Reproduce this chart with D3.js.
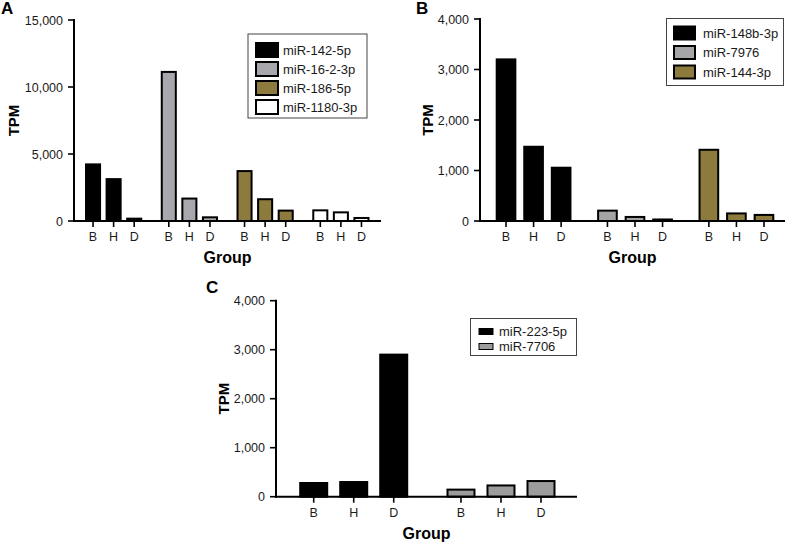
<!DOCTYPE html>
<html><head><meta charset="utf-8">
<script src="https://cdn.jsdelivr.net/npm/d3@7"></script>
<style>
body{margin:0;background:#fff;}
text{font-family:"Liberation Sans",Arial,sans-serif;}
</style></head>
<body>
<svg id="chart" width="788" height="543"></svg>
<script>
// ---- data ----
const groups = ["B", "H", "D"];

const seriesA = ["miR-142-5p", "miR-16-2-3p", "miR-186-5p", "miR-1180-3p"];
const valuesA = [
  [4300, 3200, 250],
  [11200, 1750, 350],
  [3800, 1700, 850],
  [870, 720, 300]
];
const ticksA = [0, 5000, 10000, 15000];

const seriesB = ["miR-148b-3p", "miR-7976", "miR-144-3p"];
const valuesB = [
  [3220, 1490, 1075],
  [225, 100, 50],
  [1430, 170, 140]
];
const ticksB = [0, 1000, 2000, 3000, 4000];

const seriesC = ["miR-223-5p", "miR-7706"];
const valuesC = [
  [300, 320, 2920],
  [165, 250, 340]
];
const ticksC = [0, 1000, 2000, 3000, 4000];

// ---- styling / layout ----
const colorsA = ["#000000", "#a7a7ad", "#8c7b3c", "#ffffff"];
const colorsB = ["#000000", "#a5a5a7", "#8c7b3c"];
const colorsC = ["#000000", "#9c9c9c"];

const svg = d3.select("#chart");

function panel(cfg) {
  const g = svg.append("g");
  const y = d3.scaleLinear().domain([0, cfg.ticks[cfg.ticks.length - 1]]).range([cfg.y0, cfg.y1]);
  const xo = d3.scaleBand().domain(cfg.series).range(cfg.xr).paddingInner(0.185).paddingOuter(0);
  const xi = d3.scaleBand().domain(groups).range([0, xo.bandwidth()]).padding(cfg.barPad).paddingOuter(cfg.barPad / 2);

  // bars
  cfg.series.forEach((s, si) => {
    const gg = g.append("g").attr("transform", `translate(${xo(s)},0)`);
    gg.selectAll("rect").data(cfg.values[si]).join("rect")
      .attr("x", (d, i) => xi(groups[i]) + 1)
      .attr("width", xi.bandwidth() - 2)
      .attr("y", d => y(d) + 1)
      .attr("height", d => Math.max(0, cfg.y0 - y(d) - 1))
      .attr("fill", cfg.colors[si])
      .attr("stroke", "#000")
      .attr("stroke-width", 2);
    // x ticks
    gg.selectAll("line.xt").data(groups).join("line")
      .attr("x1", d => xi(d) + xi.bandwidth() / 2).attr("x2", d => xi(d) + xi.bandwidth() / 2)
      .attr("y1", cfg.y0).attr("y2", cfg.y0 + 6)
      .attr("stroke", "#000").attr("stroke-width", 1.6);
    gg.selectAll("text.xl").data(groups).join("text")
      .attr("x", d => xi(d) + xi.bandwidth() / 2)
      .attr("y", cfg.y0 + 20)
      .attr("text-anchor", "middle")
      .attr("font-size", 12.5)
      .attr("fill", "#1a1a1a")
      .text(d => d);
  });

  // axes lines
  g.append("line").attr("x1", cfg.ax).attr("x2", cfg.ax).attr("y1", cfg.y1 - 1).attr("y2", cfg.y0 + 1)
    .attr("stroke", "#000").attr("stroke-width", 2);
  g.append("line").attr("x1", cfg.ax - 1).attr("x2", cfg.axEnd).attr("y1", cfg.y0).attr("y2", cfg.y0)
    .attr("stroke", "#000").attr("stroke-width", 2);
  // y ticks
  g.selectAll("line.yt").data(cfg.ticks).join("line")
    .attr("x1", cfg.ax - 6).attr("x2", cfg.ax).attr("y1", d => y(d)).attr("y2", d => y(d))
    .attr("stroke", "#000").attr("stroke-width", 1.6);
  g.selectAll("text.yl").data(cfg.ticks).join("text")
    .attr("x", cfg.ax - 11).attr("y", d => y(d) + 4.5)
    .attr("text-anchor", "end").attr("font-size", 12.5).attr("fill", "#1a1a1a")
    .text(d => d3.format(",")(d));

  // axis titles
  g.append("text").attr("transform", `translate(${cfg.tpmX},${(cfg.y0 + cfg.y1) / 2}) rotate(-90)`)
    .attr("text-anchor", "middle").attr("font-size", 15).attr("font-weight", "bold").text("TPM");
  g.append("text").attr("x", (cfg.ax + cfg.axEnd) / 2).attr("y", cfg.y0 + 42)
    .attr("text-anchor", "middle").attr("font-size", 16).attr("font-weight", "bold").text("Group");
  g.append("text").attr("x", cfg.lblX).attr("y", cfg.lblY)
    .attr("font-size", 17).attr("font-weight", "bold").text(cfg.label);

  // legend
  const L = cfg.legend;
  g.append("rect").attr("x", L.x).attr("y", L.y).attr("width", L.w).attr("height", L.h)
    .attr("fill", "#fff").attr("stroke", "#444").attr("stroke-width", 1);
  cfg.series.forEach((s, si) => {
    const cy = L.y + L.first + si * L.step;
    g.append("rect").attr("x", L.sx).attr("y", cy - L.sh / 2).attr("width", L.sw).attr("height", L.sh)
      .attr("fill", cfg.colors[si]).attr("stroke", "#000").attr("stroke-width", L.sstroke);
    g.append("text").attr("x", L.tx).attr("y", cy + 4.5).attr("font-size", 13).attr("fill", "#1a1a1a").text(s);
  });
}

panel({
  label: "A", lblX: 1, lblY: 14,
  series: seriesA, values: valuesA, colors: colorsA, ticks: ticksA,
  y0: 221, y1: 20, ax: 74, axEnd: 381, xr: [82.75, 371.75], barPad: 0.22, tpmX: 19,
  legend: {x: 248, y: 34, w: 119, h: 84, first: 16, step: 19, sx: 256, sw: 22, sh: 14, sstroke: 2, tx: 283}
});
panel({
  label: "B", lblX: 416, lblY: 14,
  series: seriesB, values: valuesB, colors: colorsB, ticks: ticksB,
  y0: 221, y1: 19, ax: 480, axEnd: 785, xr: [492.25, 777.75], barPad: 0.25, tpmX: 433,
  legend: {x: 666.5, y: 18.5, w: 117, h: 67, first: 14.5, step: 19.5, sx: 674, sw: 21, sh: 13, sstroke: 2, tx: 703}
});
panel({
  label: "C", lblX: 206, lblY: 293,
  series: seriesC, values: valuesC, colors: colorsC, ticks: ticksC,
  y0: 496.7, y1: 300.7, ax: 276, axEnd: 577, xr: [293.7, 561], barPad: 0.275, tpmX: 229,
  legend: {x: 470.5, y: 318.5, w: 106, h: 37, first: 13, step: 15, sx: 479, sw: 14, sh: 6, sstroke: 1, tx: 499}
});
</script>
</body></html>
